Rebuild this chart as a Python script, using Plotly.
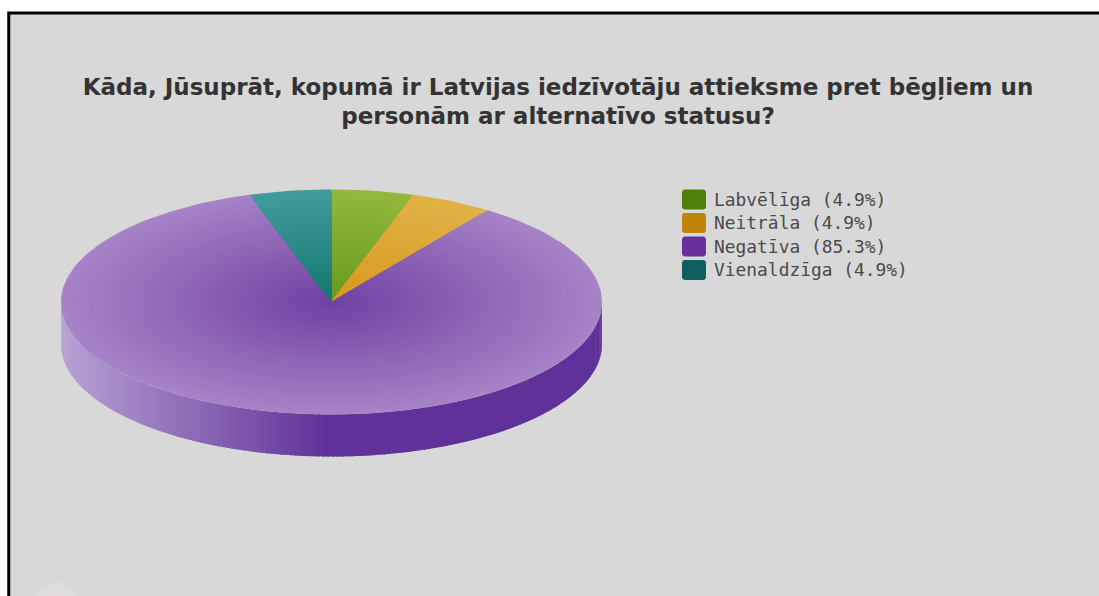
import math
import plotly.graph_objects as go

# ---- data ----
categories = ["Labvēlīga", "Neitrāla", "Negatīva", "Vienaldzīga"]
values = [4.9, 4.9, 85.3, 4.9]
legend_labels = ["Labvēlīga (4.9%)", "Neitrāla (4.9%)", "Negatīva (85.3%)", "Vienaldzīga (4.9%)"]
title_text = ("Kāda, Jūsuprāt, kopumā ir Latvijas iedzīvotāju attieksme pret bēgļiem un<br>"
              "personām ar alternatīvo statusu?")

# ---- style ----
W, H = 1099, 596
CX, CY, A, B, DEPTH = 331.5, 302.0, 270.5, 112.5, 42.0
BANDS = 48
swatch_colors = ["#4f7f0a", "#bf8409", "#692f9f", "#0f5f60"]
inner_colors = ["#669a1c", "#d8981e", "#7040a3", "#12776f"]
outer_colors = ["#93b83c", "#e0b245", "#a583c6", "#439a9c"]
side_light, side_dark = "#b8a3d3", "#5f3199"
FONT = "DejaVu Sans"
LEGEND_FONT = "DejaVu Sans Mono"


def rgb(h):
    return tuple(int(h[i:i + 2], 16) for i in (1, 3, 5))


def mix(c1, c2, t):
    a, b = rgb(c1), rgb(c2)
    return "#%02x%02x%02x" % tuple(round(a[i] + (b[i] - a[i]) * t) for i in range(3))


def point(deg, frac=1.0, dy=0.0):
    r = math.radians(deg)
    return CX + A * frac * math.sin(r), CY - B * frac * math.cos(r) + dy


def rounded_rect(x0, y0, x1, y1, r=3.0):
    xs, ys = [], []
    corners = [(x1 - r, y0 + r, -90), (x1 - r, y1 - r, 0), (x0 + r, y1 - r, 90), (x0 + r, y0 + r, 180)]
    for cx, cy, st in corners:
        for k in range(6):
            t = math.radians(st + 18 * k)
            xs.append(cx + r * math.cos(t))
            ys.append(cy + r * math.sin(t))
    return xs + xs[:1], ys + ys[:1]


fig = go.Figure()

# rim (only the front half of the pie is visible), shaded across its width
steps = 180
for i in range(steps):
    a0 = 270 - i
    a1 = max(a0 - 1.6, 90)
    mid = (a0 + a1) / 2
    x_mid, _ = point(mid)
    t = min(1.0, max(0.0, (x_mid - (CX - A)) / A))
    pts = [point(a0), point(a1), point(a1, dy=DEPTH), point(a0, dy=DEPTH)]
    fig.add_trace(go.Scatter(
        x=[p[0] for p in pts] + [pts[0][0]],
        y=[p[1] for p in pts] + [pts[0][1]],
        mode="lines", fill="toself", line=dict(width=0),
        fillcolor=mix(side_light, side_dark, t),
        showlegend=False, hoverinfo="skip"))

# top face: each slice painted as sectors shrinking towards the centre
total = sum(values)
start = 0.0
for idx, v in enumerate(values):
    span = v / total * 360.0
    n = max(2, int(span / 1.5))
    for band in range(BANDS, 0, -1):
        frac = band / BANDS
        pts = [(CX, CY)] + [point(start + span * k / n, frac) for k in range(n + 1)] + [(CX, CY)]
        fig.add_trace(go.Scatter(
            x=[p[0] for p in pts], y=[p[1] for p in pts],
            mode="lines", fill="toself", line=dict(width=0),
            fillcolor=mix(inner_colors[idx], outer_colors[idx], frac),
            name=categories[idx], showlegend=False, hoverinfo="skip"))
    start += span

# legend
LEG_X0, LEG_X1, LEG_Y0, LEG_STEP, LEG_H = 682, 706, 199.5, 23.5, 20
for i, label in enumerate(legend_labels):
    yc = LEG_Y0 + i * LEG_STEP
    xs, ys = rounded_rect(LEG_X0, yc - LEG_H / 2, LEG_X1, yc + LEG_H / 2)
    fig.add_trace(go.Scatter(x=xs, y=ys, mode="lines", fill="toself", line=dict(width=0),
                             fillcolor=swatch_colors[i], showlegend=False, hoverinfo="skip"))
    fig.add_annotation(x=712, y=yc - 0.5, text=label, showarrow=False, xanchor="left", yanchor="middle",
                       font=dict(family=LEGEND_FONT, size=17.9, color="#4a4a4a"))

fig.update_layout(
    width=W, height=H, margin=dict(l=0, r=0, t=0, b=0),
    paper_bgcolor="#ffffff", plot_bgcolor="#ffffff", showlegend=False,
    title=dict(text=title_text, x=558 / W, xanchor="center", y=1 - 94.5 / H, yanchor="middle",
               font=dict(family=FONT, size=23, color="#333333", weight="bold")),
    xaxis=dict(range=[0, W], visible=False, fixedrange=True),
    yaxis=dict(range=[H, 0], visible=False, fixedrange=True),
    shapes=[
        dict(type="rect", xref="x", yref="y", x0=8.75, y0=13, x1=W + 10, y1=H + 10,
             fillcolor="#d8d8d8", line=dict(color="#000000", width=3), layer="below"),
        dict(type="circle", xref="x", yref="y", x0=38, y0=583, x1=75, y1=608,
             fillcolor="#dfdadb", line=dict(width=0), layer="below"),
    ],
)

fig.write_html("out.html", config=dict(displayModeBar=False),
               post_script="document.body.style.margin='0';")
